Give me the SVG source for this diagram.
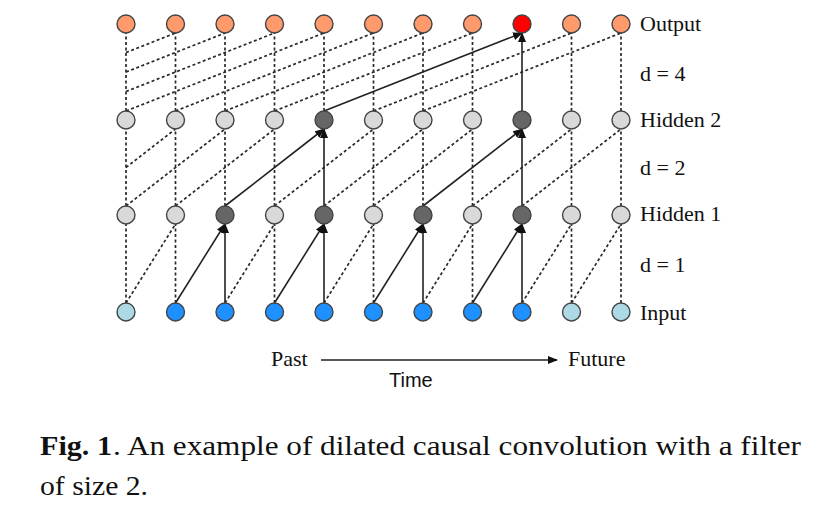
<svg xmlns="http://www.w3.org/2000/svg" width="839" height="513" viewBox="0 0 839 513">
<defs>
<marker id="ah" markerWidth="10" markerHeight="8" refX="9" refY="4" orient="auto" markerUnits="userSpaceOnUse">
<path d="M0,0 L10,4 L0,8 z" fill="#111"/>
</marker>
<style>
.dot{stroke:#2a2a2a;stroke-width:1.7;stroke-dasharray:3 2.5;fill:none}
.sol{stroke:#222;stroke-width:1.6;fill:none;marker-end:url(#ah)}
.n{stroke:#444;stroke-width:1.4}
.out{fill:#FF9A6C}
.red{fill:#FF0000}
.lg{fill:#D9D9D9}
.dg{fill:#666666}
.bl{fill:#1E90FF}
.lb{fill:#ADD8E6}
.lab{font-family:"Liberation Serif","Times New Roman",serif;font-size:22px;fill:#111}
.cap{font-family:"Liberation Serif","Times New Roman",serif;font-size:27px;fill:#111}
</style>
</defs>
<rect width="839" height="513" fill="#fff"/>
<g id="connectors">
<!-- input to hidden1 -->
<line class="dot" x1="126" y1="303" x2="126" y2="224"/>
<line class="dot" x1="175.5" y1="303" x2="175.5" y2="224"/>
<line class="dot" x1="274.5" y1="303" x2="274.5" y2="224"/>
<line class="dot" x1="373.5" y1="303" x2="373.5" y2="224"/>
<line class="dot" x1="472.5" y1="303" x2="472.5" y2="224"/>
<line class="dot" x1="571.5" y1="303" x2="571.5" y2="224"/>
<line class="dot" x1="621" y1="303" x2="621" y2="224"/>
<line class="dot" x1="126" y1="303" x2="175.5" y2="224"/>
<line class="dot" x1="225" y1="303" x2="274.5" y2="224"/>
<line class="dot" x1="324" y1="303" x2="373.5" y2="224"/>
<line class="dot" x1="423" y1="303" x2="472.5" y2="224"/>
<line class="dot" x1="522" y1="303" x2="571.5" y2="224"/>
<line class="dot" x1="571.5" y1="303" x2="621" y2="224"/>
<line class="sol" x1="225" y1="303" x2="225" y2="224"/>
<line class="sol" x1="324" y1="303" x2="324" y2="224"/>
<line class="sol" x1="423" y1="303" x2="423" y2="224"/>
<line class="sol" x1="522" y1="303" x2="522" y2="224"/>
<line class="sol" x1="175.5" y1="303" x2="225" y2="224"/>
<line class="sol" x1="274.5" y1="303" x2="324" y2="224"/>
<line class="sol" x1="373.5" y1="303" x2="423" y2="224"/>
<line class="sol" x1="472.5" y1="303" x2="522" y2="224"/>
<!-- hidden1 to hidden2 -->
<line class="dot" x1="126" y1="206" x2="126" y2="129"/>
<line class="dot" x1="175.5" y1="206" x2="175.5" y2="129"/>
<line class="dot" x1="225" y1="206" x2="225" y2="129"/>
<line class="dot" x1="274.5" y1="206" x2="274.5" y2="129"/>
<line class="dot" x1="373.5" y1="206" x2="373.5" y2="129"/>
<line class="dot" x1="423" y1="206" x2="423" y2="129"/>
<line class="dot" x1="472.5" y1="206" x2="472.5" y2="129"/>
<line class="dot" x1="571.5" y1="206" x2="571.5" y2="129"/>
<line class="dot" x1="621" y1="206" x2="621" y2="129"/>
<line class="dot" x1="126" y1="167.5" x2="175.5" y2="129"/>
<line class="dot" x1="126" y1="206" x2="225" y2="129"/>
<line class="dot" x1="175.5" y1="206" x2="274.5" y2="129"/>
<line class="dot" x1="274.5" y1="206" x2="373.5" y2="129"/>
<line class="dot" x1="324" y1="206" x2="423" y2="129"/>
<line class="dot" x1="373.5" y1="206" x2="472.5" y2="129"/>
<line class="dot" x1="472.5" y1="206" x2="571.5" y2="129"/>
<line class="dot" x1="522" y1="206" x2="621" y2="129"/>
<line class="sol" x1="324" y1="206" x2="324" y2="129"/>
<line class="sol" x1="522" y1="206" x2="522" y2="129"/>
<line class="sol" x1="225" y1="206" x2="324" y2="129"/>
<line class="sol" x1="423" y1="206" x2="522" y2="129"/>
<!-- hidden2 to output -->
<line class="dot" x1="126" y1="111" x2="126" y2="33"/>
<line class="dot" x1="175.5" y1="111" x2="175.5" y2="33"/>
<line class="dot" x1="225" y1="111" x2="225" y2="33"/>
<line class="dot" x1="274.5" y1="111" x2="274.5" y2="33"/>
<line class="dot" x1="324" y1="111" x2="324" y2="33"/>
<line class="dot" x1="373.5" y1="111" x2="373.5" y2="33"/>
<line class="dot" x1="423" y1="111" x2="423" y2="33"/>
<line class="dot" x1="472.5" y1="111" x2="472.5" y2="33"/>
<line class="dot" x1="571.5" y1="111" x2="571.5" y2="33"/>
<line class="dot" x1="621" y1="111" x2="621" y2="33"/>
<line class="dot" x1="126" y1="52.5" x2="175.5" y2="33"/>
<line class="dot" x1="126" y1="72" x2="225" y2="33"/>
<line class="dot" x1="126" y1="91.5" x2="274.5" y2="33"/>
<line class="dot" x1="126" y1="111" x2="324" y2="33"/>
<line class="dot" x1="175.5" y1="111" x2="373.5" y2="33"/>
<line class="dot" x1="225" y1="111" x2="423" y2="33"/>
<line class="dot" x1="274.5" y1="111" x2="472.5" y2="33"/>
<line class="dot" x1="373.5" y1="111" x2="571.5" y2="33"/>
<line class="dot" x1="423" y1="111" x2="621" y2="33"/>
<line class="sol" x1="522" y1="111" x2="522" y2="33"/>
<line class="sol" x1="324" y1="111" x2="522" y2="33"/>
<!-- time arrow -->
<line class="sol" x1="321" y1="360" x2="557" y2="360"/>
</g>
<g id="output-row">
<g id="out0"><circle class="n out" cx="126" cy="24" r="9"/></g>
<g id="out1"><circle class="n out" cx="175.5" cy="24" r="9"/></g>
<g id="out2"><circle class="n out" cx="225" cy="24" r="9"/></g>
<g id="out3"><circle class="n out" cx="274.5" cy="24" r="9"/></g>
<g id="out4"><circle class="n out" cx="324" cy="24" r="9"/></g>
<g id="out5"><circle class="n out" cx="373.5" cy="24" r="9"/></g>
<g id="out6"><circle class="n out" cx="423" cy="24" r="9"/></g>
<g id="out7"><circle class="n out" cx="472.5" cy="24" r="9"/></g>
<g id="out8"><circle class="n red" cx="522" cy="24" r="9"/></g>
<g id="out9"><circle class="n out" cx="571.5" cy="24" r="9"/></g>
<g id="out10"><circle class="n out" cx="621" cy="24" r="9"/></g>
</g>
<g id="hidden2-row">
<g id="h2_0"><circle class="n lg" cx="126" cy="120" r="9"/></g>
<g id="h2_1"><circle class="n lg" cx="175.5" cy="120" r="9"/></g>
<g id="h2_2"><circle class="n lg" cx="225" cy="120" r="9"/></g>
<g id="h2_3"><circle class="n lg" cx="274.5" cy="120" r="9"/></g>
<g id="h2_4"><circle class="n dg" cx="324" cy="120" r="9"/></g>
<g id="h2_5"><circle class="n lg" cx="373.5" cy="120" r="9"/></g>
<g id="h2_6"><circle class="n lg" cx="423" cy="120" r="9"/></g>
<g id="h2_7"><circle class="n lg" cx="472.5" cy="120" r="9"/></g>
<g id="h2_8"><circle class="n dg" cx="522" cy="120" r="9"/></g>
<g id="h2_9"><circle class="n lg" cx="571.5" cy="120" r="9"/></g>
<g id="h2_10"><circle class="n lg" cx="621" cy="120" r="9"/></g>
</g>
<g id="hidden1-row">
<g id="h1_0"><circle class="n lg" cx="126" cy="215" r="9"/></g>
<g id="h1_1"><circle class="n lg" cx="175.5" cy="215" r="9"/></g>
<g id="h1_2"><circle class="n dg" cx="225" cy="215" r="9"/></g>
<g id="h1_3"><circle class="n lg" cx="274.5" cy="215" r="9"/></g>
<g id="h1_4"><circle class="n dg" cx="324" cy="215" r="9"/></g>
<g id="h1_5"><circle class="n lg" cx="373.5" cy="215" r="9"/></g>
<g id="h1_6"><circle class="n dg" cx="423" cy="215" r="9"/></g>
<g id="h1_7"><circle class="n lg" cx="472.5" cy="215" r="9"/></g>
<g id="h1_8"><circle class="n dg" cx="522" cy="215" r="9"/></g>
<g id="h1_9"><circle class="n lg" cx="571.5" cy="215" r="9"/></g>
<g id="h1_10"><circle class="n lg" cx="621" cy="215" r="9"/></g>
</g>
<g id="input-row">
<g id="in0"><circle class="n lb" cx="126" cy="312" r="9"/></g>
<g id="in1"><circle class="n bl" cx="175.5" cy="312" r="9"/></g>
<g id="in2"><circle class="n bl" cx="225" cy="312" r="9"/></g>
<g id="in3"><circle class="n bl" cx="274.5" cy="312" r="9"/></g>
<g id="in4"><circle class="n bl" cx="324" cy="312" r="9"/></g>
<g id="in5"><circle class="n bl" cx="373.5" cy="312" r="9"/></g>
<g id="in6"><circle class="n bl" cx="423" cy="312" r="9"/></g>
<g id="in7"><circle class="n bl" cx="472.5" cy="312" r="9"/></g>
<g id="in8"><circle class="n bl" cx="522" cy="312" r="9"/></g>
<g id="in9"><circle class="n lb" cx="571.5" cy="312" r="9"/></g>
<g id="in10"><circle class="n lb" cx="621" cy="312" r="9"/></g>
</g>
<g id="labels">
<text class="lab" x="640" y="31">Output</text>
<text class="lab" x="640" y="81">d = 4</text>
<text class="lab" x="640" y="127">Hidden 2</text>
<text class="lab" x="640" y="175">d = 2</text>
<text class="lab" x="640" y="221">Hidden 1</text>
<text class="lab" x="640" y="272">d = 1</text>
<text class="lab" x="640" y="320">Input</text>
<text class="lab" x="271" y="366">Past</text>
<text class="lab" x="568" y="366">Future</text>
<text x="389" y="387" style="font-family:'Liberation Sans',Arial,sans-serif;font-size:20px;fill:#111">Time</text>
</g>
<g id="caption">
<text class="cap" x="40" y="455" font-weight="bold" textLength="72" lengthAdjust="spacingAndGlyphs">Fig. 1</text>
<text class="cap" x="113" y="455" textLength="688" lengthAdjust="spacingAndGlyphs">. An example of dilated causal convolution with a filter</text>
<text class="cap" x="40" y="495" textLength="108" lengthAdjust="spacingAndGlyphs">of size 2.</text>
</g>
</svg>
